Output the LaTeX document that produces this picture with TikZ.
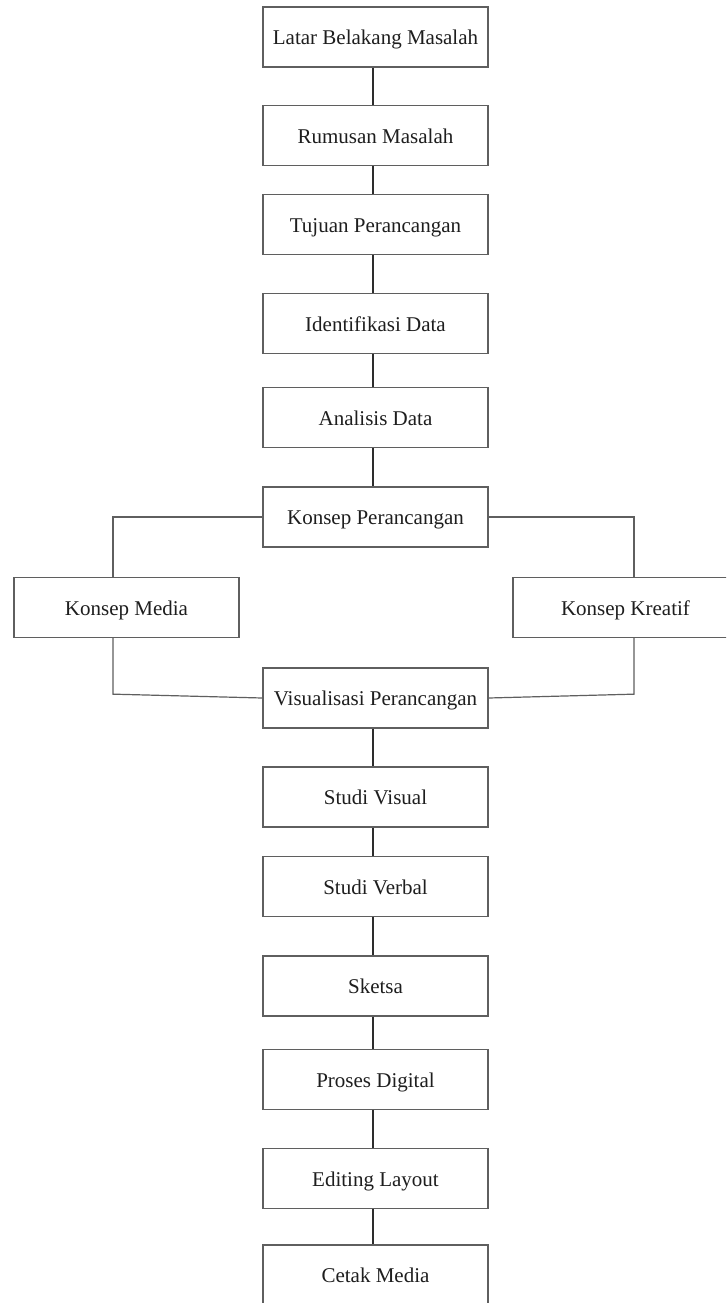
\documentclass[tikz,border=0pt]{standalone}
\usepackage{fontspec}
\setmainfont{Liberation Serif}
\definecolor{boxgray}{RGB}{95,95,95}
\definecolor{linkgray}{RGB}{45,45,45}
\definecolor{textgray}{RGB}{30,30,30}
\begin{document}
\begin{tikzpicture}[x=1pt,y=-1pt,
  box/.style={draw=boxgray, line width=1.3pt, minimum width=225pt, minimum height=60pt,
    inner sep=0pt, text height=18pt, text depth=2.5pt,
    font=\fontsize{21}{25}\selectfont, text=textgray},
  link/.style={draw=linkgray, line width=2pt},
  branch/.style={draw=boxgray, line width=1.2pt}]
\useasboundingbox (0,0) rectangle (726,1303);
\clip (0,0) rectangle (726,1303);
\fill[white] (0,0) rectangle (726,1303);
% central column
\node[box] (b1) at (375.5,37) {Latar Belakang Masalah};
\node[box] (b2) at (375.5,135.5) {Rumusan Masalah};
\node[box] (b3) at (375.5,224.5) {Tujuan Perancangan};
\node[box] (b4) at (375.5,323.5) {Identifikasi Data};
\node[box] (b5) at (375.5,417.5) {Analisis Data};
\node[box] (b6) at (375.5,517) {Konsep Perancangan};
\node[box] (media) at (126.5,607.5) {Konsep Media};
\node[box] (kreatif) at (625.5,607.5) {Konsep Kreatif};
\node[box] (vis) at (375.5,698) {Visualisasi Perancangan};
\node[box] (b8) at (375.5,797) {Studi Visual};
\node[box] (b9) at (375.5,886.5) {Studi Verbal};
\node[box] (b10) at (375.5,986) {Sketsa};
\node[box] (b11) at (375.5,1079.5) {Proses Digital};
\node[box] (b12) at (375.5,1178.5) {Editing Layout};
\node[box] (b13) at (375.5,1275) {Cetak Media};
% vertical links
\foreach \a/\b in {b1/b2,b2/b3,b3/b4,b4/b5,b5/b6,vis/b8,b8/b9,b9/b10,b10/b11,b11/b12,b12/b13}
  \draw[link] ([xshift=-3pt]\a.south) -- ([xshift=-3pt]\b.north);
% branches
\draw[branch] (b6.west) -| ([xshift=-13.5pt]media.north);
\draw[branch] (b6.east) -| ([xshift=8.5pt]kreatif.north);
\draw[branch] ([xshift=-13.5pt]media.south) -- ++(0,56) -- (vis.west);
\draw[branch] ([xshift=8.5pt]kreatif.south) -- ++(0,56) -- (vis.east);
\end{tikzpicture}
\end{document}
